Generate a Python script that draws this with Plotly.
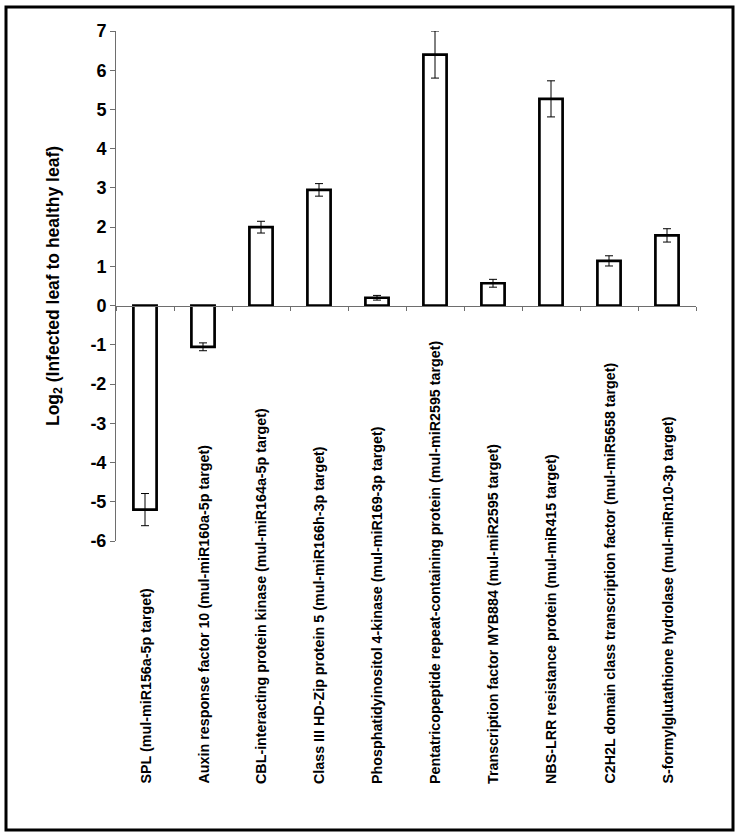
import plotly.graph_objects as go

categories = [
    "SPL (mul-miR156a-5p target)",
    "Auxin response factor 10 (mul-miR160a-5p target)",
    "CBL-interacting protein kinase (mul-miR164a-5p target)",
    "Class III HD-Zip protein 5 (mul-miR166h-3p target)",
    "Phosphatidyinositol 4-kinase (mul-miR169-3p target)",
    "Pentatricopeptide repeat-containing protein (mul-miR2595 target)",
    "Transcription factor MYB884 (mul-miR2595 target)",
    "NBS-LRR resistance protein (mul-miR415 target)",
    "C2H2L domain class transcription factor (mul-miR5658 target)",
    "S-formylglutathione hydrolase (mul-miRn10-3p target)",
]
values = [-5.2, -1.05, 2.0, 2.95, 0.2, 6.4, 0.57, 5.27, 1.14, 1.79]
errors = [0.41, 0.1, 0.15, 0.16, 0.06, 0.6, 0.1, 0.46, 0.13, 0.17]
y_ticks = list(range(-6, 8))
y_min, y_max = -6, 7

FONT = "Liberation Sans, Arial, sans-serif"
AXIS_COLOR = "#6e6e6e"

W, H = 738, 835
ML, MR, MT, MB = 116, 42, 31, 294
PW, PH = W - ML - MR, H - MT - MB

fig = go.Figure()
fig.add_trace(go.Bar(
    x=categories, y=values, width=0.4,
    marker=dict(color="white", line=dict(color="black", width=2.7)),
    error_y=dict(type="data", array=errors, visible=True, color="black",
                 thickness=1, width=4),
    xaxis="x", yaxis="y", showlegend=False, hoverinfo="skip",
))
# invisible helper trace that carries the zero-level category axis
fig.add_trace(go.Scatter(
    x=categories, y=[0] * len(categories), mode="lines",
    line=dict(width=0), opacity=0, xaxis="x2", yaxis="y",
    showlegend=False, hoverinfo="skip",
))

annotations = []
for c in categories:
    annotations.append(dict(
        x=c, xref="x", y=(541 - 786) / PH, yref="paper",
        text="<b>%s</b>" % c, textangle=-90, showarrow=False,
        xanchor="center", yanchor="bottom",
        font=dict(family=FONT, size=14.3, color="black"),
    ))

fig.update_layout(
    width=W, height=H,
    margin=dict(l=ML, r=MR, t=MT, b=MB, pad=0),
    paper_bgcolor="white", plot_bgcolor="white",
    font=dict(family=FONT, color="black"),
    xaxis=dict(type="category", categoryorder="array", categoryarray=categories,
               range=[-0.5, len(categories) - 0.5],
               showticklabels=False, showline=False, ticks="",
               showgrid=False, zeroline=False),
    xaxis2=dict(type="category", categoryorder="array", categoryarray=categories,
                range=[-0.5, len(categories) - 0.5], overlaying="x",
                anchor="free", position=(0 - y_min) / (y_max - y_min),
                side="bottom", showticklabels=False, showline=True,
                linecolor=AXIS_COLOR, linewidth=1, ticks="outside",
                tickson="boundaries", ticklen=4, tickcolor=AXIS_COLOR,
                showgrid=False, zeroline=False),
    yaxis=dict(range=[y_min, y_max], tickvals=y_ticks,
               ticktext=["<b>%d</b>" % v for v in y_ticks],
               tickfont=dict(family=FONT, size=18, color="black"),
               showline=True, linecolor=AXIS_COLOR, linewidth=1,
               ticks="outside", ticklen=5, tickcolor=AXIS_COLOR,
               showgrid=False, zeroline=False,
               title=dict(text="<b>Log<sub>2</sub> (Infected leaf to healthy leaf)</b>",
                          font=dict(family=FONT, size=17.5, color="black"),
                          standoff=26)),
    annotations=annotations,
    shapes=[dict(type="rect", xref="paper", yref="paper",
                 x0=(6 - ML) / PW, x1=(733 - ML) / PW,
                 y0=(541 - 830) / PH, y1=(541 - 7) / PH,
                 line=dict(color="black", width=3), fillcolor="rgba(0,0,0,0)",
                 layer="above")],
)

fig.write_html("out.html", config={"displayModeBar": False},
               post_script="document.body.style.margin='0px';document.body.style.overflow='hidden';")
